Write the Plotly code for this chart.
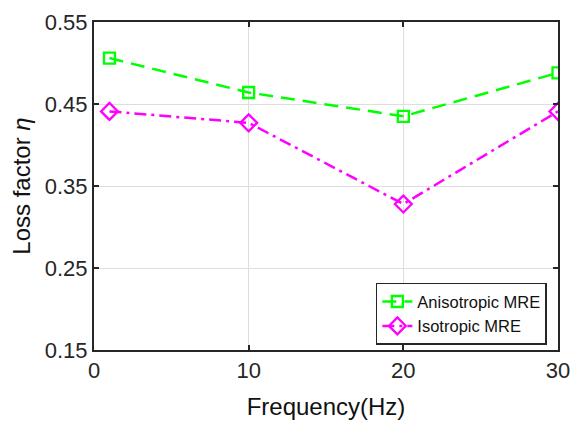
import plotly.graph_objects as go

# Frequency (Hz)
frequencia = [1, 10, 20, 30]
# Loss factor
aniso = [0.506, 0.464, 0.435, 0.488]
iso = [0.441, 0.427, 0.328, 0.441]

x_ticks = [0, 10, 20, 30]
y_ticks = [0.15, 0.25, 0.35, 0.45, 0.55]

fonte = "Liberation Sans, Arial, sans-serif"
cor_eixo = "#262626"

fig = go.Figure()
fig.add_trace(go.Scatter(
    x=frequencia, y=aniso, mode="lines+markers", name="Anisotropic MRE",
    line=dict(color="#00FF00", width=2.5, dash="14px,8px"),
    marker=dict(symbol="square-open", size=11, color="#00FF00", line=dict(width=2.3)),
))
fig.add_trace(go.Scatter(
    x=frequencia, y=iso, mode="lines+markers", name="Isotropic MRE",
    line=dict(color="#FF00FF", width=2.5, dash="12px,5px,3px,5px"),
    marker=dict(symbol="diamond-open", size=13, color="#FF00FF", line=dict(width=2.3)),
))

eixo = dict(
    showline=True, linecolor=cor_eixo, linewidth=2, mirror="ticks",
    ticks="inside", ticklen=5, tickwidth=1.5, tickcolor=cor_eixo,
    showgrid=True, gridcolor="#dedede", gridwidth=1.2, zeroline=False,
    tickfont=dict(family=fonte, size=22, color=cor_eixo),
    automargin=False, ticklabeloverflow="allow",
)

fig.update_xaxes(eixo, range=[0, 30], tickvals=x_ticks,
                 title=dict(text="Frequency(Hz)", font=dict(family=fonte, size=24, color="#111"), standoff=16))
fig.update_yaxes(eixo, range=[0.15, 0.55], tickvals=y_ticks, tickformat=".2f",
                 title=dict(text="Loss factor <i>η</i>", font=dict(family=fonte, size=24, color="#111"), standoff=8))

# a página tem margem de 8px no body, por isso as margens estão compensadas
fig.update_layout(
    width=582, height=427,
    margin=dict(l=86, r=32, t=14, b=85),
    plot_bgcolor="white", paper_bgcolor="white",
    legend=dict(
        x=0.976, y=0.205, xanchor="right", yanchor="top",
        bgcolor="white", bordercolor=cor_eixo, borderwidth=1.5,
        font=dict(family=fonte, size=16.5, color="#111"),
        itemwidth=30, tracegroupgap=0,
    ),
)

fig.write_html("out.html")
